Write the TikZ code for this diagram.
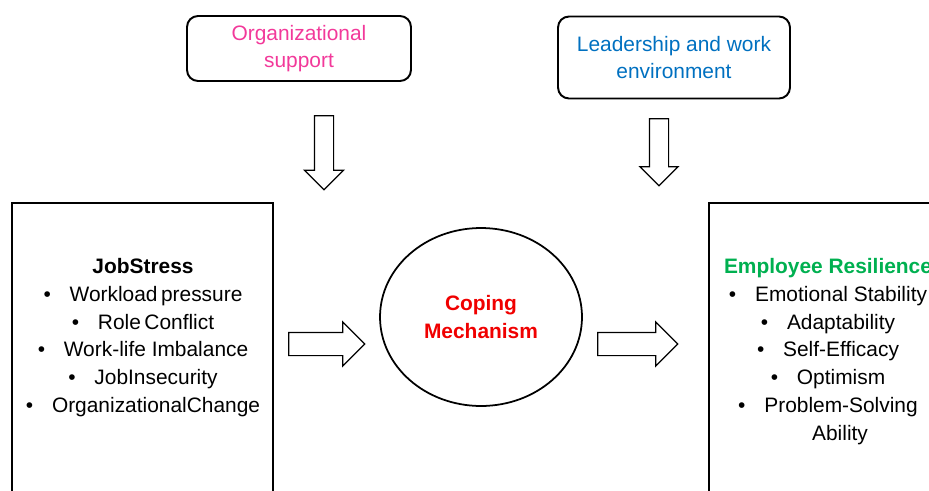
\documentclass[tikz,border=0pt]{standalone}
\usepackage{fontspec}
\setmainfont{Liberation Sans}
\usetikzlibrary{shapes.geometric, shapes.arrows}

\definecolor{orgpink}{HTML}{F2399A}
\definecolor{leadblue}{HTML}{0070C0}
\definecolor{copered}{HTML}{F00000}
\definecolor{resgreen}{HTML}{00B050}

\begin{document}
\begin{tikzpicture}[x=0.02cm,y=-0.02cm,
  every node/.style={font=\fontsize{11.9}{15.8}\selectfont},
  factor/.style={draw,line width=1.1pt,rounded corners=0.22cm,align=center,inner sep=0pt},
  panel/.style={draw,line width=1.1pt,inner sep=0pt,anchor=north west,minimum width=#1,minimum height=6cm},
  items/.style={align=center,anchor=north,inner sep=0pt},
  blockarrow/.style={draw,line width=0.7pt,single arrow,single arrow head extend=0.2cm,inner sep=0.18cm}]
  \useasboundingbox (0,0) rectangle (929,490);
  \clip (0,0) rectangle (929,490);

  % moderators on top
  \node[factor,minimum width=4.48cm,minimum height=1.3cm,text=orgpink] (support) at (299,48.5) {Organizational\\support};
  \node[factor,minimum width=4.64cm,minimum height=1.64cm,text=leadblue] (lead) at (674,57.5) {Leadership and work\\environment};
  \node[blockarrow,shape border rotate=270,minimum height=1.48cm] (supportarrow) at (324,148) {};
  \node[blockarrow,shape border rotate=270,minimum height=1.34cm,single arrow head extend=0.19cm] (leadarrow) at (659,147.5) {};

  % stressors
  \node[panel=5.22cm] (stress) at (11,202) {};
  \node[items] (stresslist) at (143,258) {{\bfseries JobStress}\\
    \textbullet\hspace{0.9em}Workload\,pressure\\
    \textbullet\hspace{0.9em}Role\,Conflict\\
    \textbullet\hspace{0.9em}Work-life Imbalance\\
    \textbullet\hspace{0.9em}JobInsecurity\\
    \textbullet\hspace{0.9em}OrganizationalChange};

  % coping in the middle
  \node[draw,ellipse,line width=1pt,inner sep=0pt,minimum width=4.04cm,minimum height=3.56cm,
        text=copered,font=\fontsize{11.9}{15.8}\selectfont\bfseries,align=center] (coping) at (481,317) {Coping\\Mechanism};
  \node[blockarrow,minimum height=1.52cm,inner sep=0.22cm,single arrow head extend=0.21cm] (stressarrow) at (321,344) {};
  \node[blockarrow,minimum height=1.6cm,inner sep=0.22cm,single arrow head extend=0.21cm] (resarrow) at (632,344) {};

  % outcome
  \node[panel=5cm] (resilience) at (708,202) {};
  \node[items] (reslist) at (828,258) {{\bfseries\color{resgreen}Employee Resilience}\\
    \textbullet\hspace{0.9em}Emotional Stability\\
    \textbullet\hspace{0.9em}Adaptability\\
    \textbullet\hspace{0.9em}Self-Efficacy\\
    \textbullet\hspace{0.9em}Optimism\\
    \textbullet\hspace{0.9em}Problem-Solving\\
    \hspace*{1.15em}Ability};
\end{tikzpicture}
\end{document}
